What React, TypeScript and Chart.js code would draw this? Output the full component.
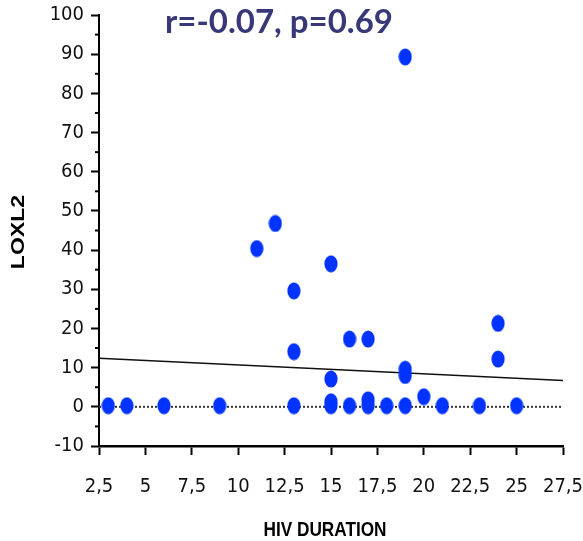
import React, { useEffect, useRef } from "react";
import { Chart, registerables } from "chart.js";

Chart.register(...registerables);

const durationX = [3, 4, 6, 9, 11, 12, 13, 13, 13, 15, 15, 15, 15, 16, 16, 17, 17, 17, 18, 19, 19, 19, 19, 20, 21, 23, 24, 24, 25];
const loxl2Y = [0.3, 0.3, 0.3, 0.3, 40.4, 46.8, 29.6, 14.1, 0.3, 36.5, 7.1, 1.3, 0.3, 17.3, 0.3, 17.3, 1.8, 0.3, 0.3, 89.3, 9.6, 8.0, 0.3, 2.6, 0.3, 0.3, 21.3, 12.2, 0.3];
const regressionX = [2.5, 27.5];
const regressionY = [12.4, 6.7];
const zeroLineX = [2.5, 27.5];
const zeroLineY = [0, 0];
const titleText = "r=-0.07, p=0.69";
const xTitle = "HIV DURATION";
const yTitle = "LOXL2";

function makeDot(): HTMLCanvasElement {
  const c = document.createElement("canvas");
  c.width = 14;
  c.height = 18;
  const g = c.getContext("2d")!;
  g.fillStyle = "#0033ff";
  g.beginPath();
  g.ellipse(7, 9, 6.6, 8.6, 0, 0, Math.PI * 2);
  g.fill();
  return c;
}

export default function App() {
  const ref = useRef<HTMLCanvasElement | null>(null);
  useEffect(() => {
    document.body.style.margin = "0";
    const dot = makeDot();
    const tickFont = { family: "'Liberation Sans Narrow', 'DejaVu Sans Condensed', 'Liberation Sans', sans-serif", size: 20 };
    const textPlugin = {
      id: "texts",
      afterDraw(chart: any) {
        const ctx = chart.ctx;
        const ys = chart.scales.y;
        const area = chart.chartArea;
        ctx.save();
        // minor ticks on y axis
        ctx.strokeStyle = "#000";
        ctx.lineWidth = 2;
        for (let v = -5; v < 100; v += 10) {
          const py = ys.getPixelForValue(v);
          ctx.beginPath();
          ctx.moveTo(area.left - 4, py);
          ctx.lineTo(area.left, py);
          ctx.stroke();
        }
        // title
        ctx.fillStyle = "#383878";
        ctx.font = "bold 33px Lato, 'Open Sans', sans-serif";
        ctx.textAlign = "center";
        ctx.textBaseline = "middle";
        ctx.fillText(titleText, 279, 22);
        ctx.restore();

        // x title
        ctx.save();
        ctx.fillStyle = "#000";
        ctx.textAlign = "center";
        ctx.textBaseline = "middle";
        ctx.font = "bold 21px 'Liberation Sans', Arial, sans-serif";
        ctx.translate(325, 530);
        ctx.scale(0.82, 1);
        ctx.fillText(xTitle, 0, 0);
        ctx.restore();

        // y title
        ctx.save();
        ctx.fillStyle = "#000";
        ctx.textAlign = "center";
        ctx.textBaseline = "middle";
        ctx.translate(19, 232);
        ctx.rotate(-Math.PI / 2);
        ctx.scale(1.28, 1);
        ctx.font = "bold 18px 'Liberation Sans', Arial, sans-serif";
        ctx.fillText(yTitle, 0, 0);
        ctx.restore();
      },
    };
    const chart = new Chart(ref.current!, {
      type: "scatter",
      data: {
        datasets: [
          {
            label: "points",
            data: durationX.map((x, i) => ({ x, y: loxl2Y[i] })),
            pointStyle: dot as any,
            pointRadius: 7,
            showLine: false,
          },
          {
            label: "regression",
            data: regressionX.map((x, i) => ({ x, y: regressionY[i] })),
            showLine: true,
            borderColor: "#111",
            borderWidth: 1.6,
            pointRadius: 0,
          },
          {
            label: "zero",
            data: zeroLineX.map((x, i) => ({ x, y: zeroLineY[i] })),
            showLine: true,
            borderColor: "#333",
            borderWidth: 2,
            borderDash: [2, 2],
            pointRadius: 0,
          },
        ],
      },
      options: {
        animation: false,
        responsive: false,
        layout: { padding: { top: 15, right: 20, left: 0, bottom: 0 } },
        plugins: { legend: { display: false }, tooltip: { enabled: false }, title: { display: false } },
        scales: {
          x: {
            type: "linear",
            min: 2.5,
            max: 27.5,
            border: { display: true, color: "#000", width: 2.5 },
            grid: { drawOnChartArea: false, drawTicks: true, tickLength: 9, tickColor: "#000", tickWidth: 2 },
            ticks: {
              stepSize: 2.5,
              color: "#111",
              font: tickFont,
              padding: 20,
              maxRotation: 0,
              autoSkip: false,
              callback: (v: any) => String(v).replace(".", ","),
            },
            afterFit: (s: any) => {
              s.height = 95;
              s.paddingRight = 0;
              s.paddingLeft = 0;
            },
          },
          y: {
            type: "linear",
            min: -10,
            max: 100,
            border: { display: true, color: "#000", width: 2 },
            grid: { drawOnChartArea: false, drawTicks: true, tickLength: 8, tickColor: "#000", tickWidth: 2 },
            ticks: { stepSize: 10, color: "#111", font: tickFont, padding: 7 },
            afterFit: (s: any) => {
              s.width = 99;
              s.paddingTop = 0;
              s.paddingBottom = 0;
            },
          },
        },
      },
      plugins: [textPlugin],
    });
    return () => chart.destroy();
  }, []);
  return (
    <div style={{ width: 583, height: 541 }}>
      <canvas ref={ref} width={583} height={541} style={{ display: "block" }} />
    </div>
  );
}
